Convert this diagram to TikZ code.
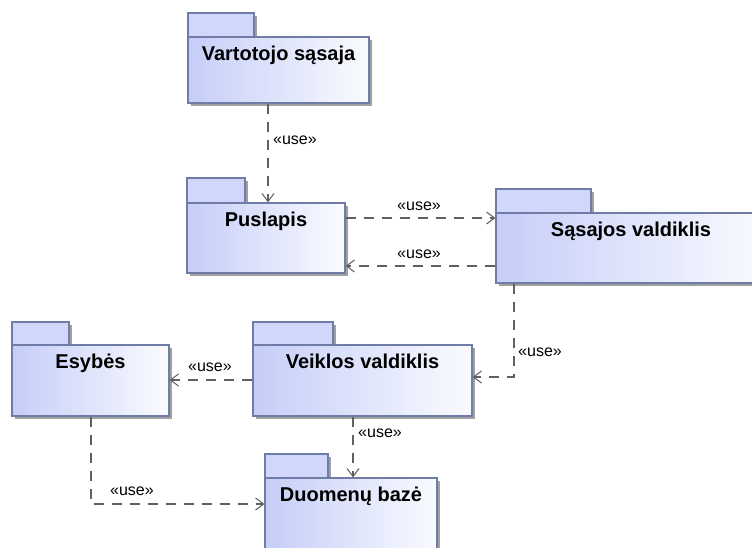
\documentclass[tikz,border=0pt]{standalone}
\usepackage{fontspec}
\setmainfont{Liberation Sans}
\usetikzlibrary{arrows.meta,fit}
\definecolor{pkgfill}{RGB}{198,206,248}
\definecolor{pkgtabc}{RGB}{208,215,250}
\definecolor{pkgline}{RGB}{112,124,168}
\definecolor{pkgshad}{RGB}{160,160,160}
\definecolor{arrc}{RGB}{96,96,96}
\tikzset{
  pkgbody/.style={draw=pkgline, line width=0.9pt, inner sep=0pt},
  pkgtab/.style={draw=pkgline, line width=0.9pt, fill=pkgtabc},
  pkgshadow/.style={fill=pkgshad},
  pkgtext/.style={font=\bfseries\fontsize{15pt}{18pt}\selectfont, inner sep=0pt, anchor=base},
  uselbl/.style={font=\fontsize{12pt}{14pt}\selectfont, inner sep=0pt},
  usearr/.style={draw=arrc, line width=0.8pt, dash pattern=on 7.5pt off 6pt, -{Straight Barb[length=6pt,width=9pt]}}
}
% #1 name, #2 left, #3 tab top, #4 tab right, #5 body top, #6 right, #7 bottom, #8 text
\newcommand\pkgdraw[8]{%
  \fill[pkgshadow] ({#2+3},{#3+3}) rectangle ({#4+3},#5);
  \fill[pkgshadow] ({#2+3},{#5+3}) rectangle ({#6+3},{#7+3});
  \draw[pkgtab] (#2,#3) rectangle (#4,#5);
  \foreach \i in {0,...,39}{%
    \pgfmathsetmacro\pkgmix{100-2.3*\i}%
    \fill[pkgfill!\pkgmix!white] ({#2+(#6-#2)*\i/40},#5) rectangle ({#2+(#6-#2)*(\i+1.2)/40},#7);
  }
  \node[pkgbody, fit={(#2,#5) (#6,#7)}] (#1) {};
  \node[pkgtext] (#1-t) at ({(#2+#6)/2},{#5+23}) {#8};
}
\begin{document}
\begin{tikzpicture}[x=0.75pt, y=-0.75pt]
\useasboundingbox (0,0) rectangle (752,547);
\clip (0,0) rectangle (752,547);
\fill[white] (0,0) rectangle (752,547);

\pkgdraw{var}{188}{13}{254}{37}{369}{103}{Vartotojo sąsaja}
\pkgdraw{pus}{187}{178}{245}{203}{345}{273}{Puslapis}
\pkgdraw{sas}{496}{189}{591}{213}{766}{283}{Sąsajos valdiklis}
\pkgdraw{esy}{12}{322}{69}{345}{169}{416}{Esybės}
\pkgdraw{vei}{253}{322}{333}{345}{472}{416}{Veiklos valdiklis}
\pkgdraw{duo}{265}{454}{328}{478}{437}{560}{Duomenų bazė}

\draw[usearr] (var.south -| 268,0) -- (pus.north -| 268,0);
\draw[usearr] (pus.east |- 0,218) -- (sas.west |- 0,218);
\draw[usearr] (sas.west |- 0,266) -- (pus.east |- 0,266);
\draw[usearr] (sas.south -| 514,0) |- (vei.east |- 0,377);
\draw[usearr] (vei.west |- 0,380) -- (esy.east |- 0,380);
\draw[usearr] (vei.south -| 353,0) -- (duo.north -| 353,0);
\draw[usearr] (esy.south -| 91,0) |- (duo.west |- 0,504);

\node[uselbl] (l1) at (295,140) {«use»};
\node[uselbl] (l2) at (419,206) {«use»};
\node[uselbl] (l3) at (419,254) {«use»};
\node[uselbl] (l4) at (540,352) {«use»};
\node[uselbl] (l5) at (210,367) {«use»};
\node[uselbl] (l6) at (380,433) {«use»};
\node[uselbl] (l7) at (132,491) {«use»};
\end{tikzpicture}
\end{document}
